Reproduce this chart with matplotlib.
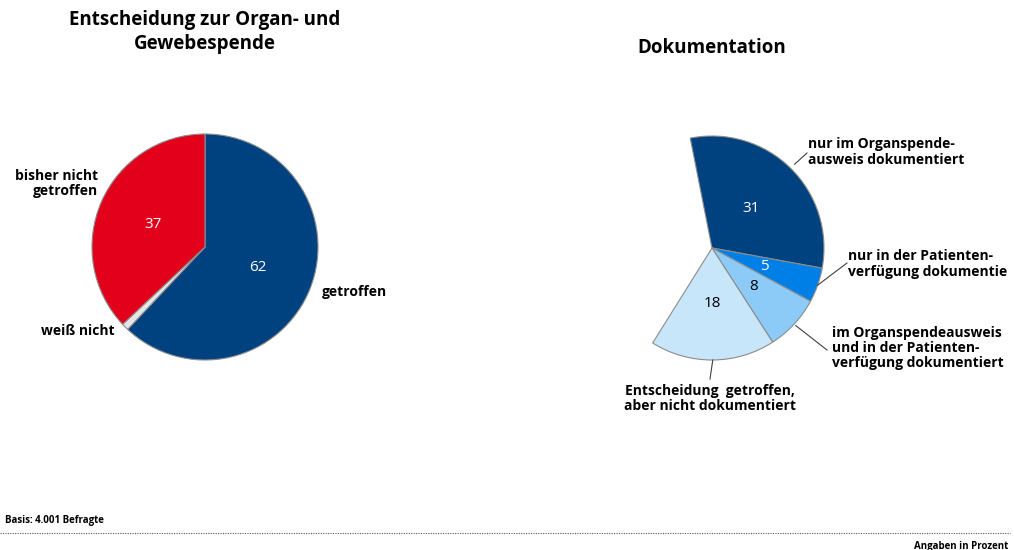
import numpy as np
import matplotlib
matplotlib.use("Agg")
import matplotlib.pyplot as plt

plt.rcParams["font.family"] = ["Open Sans", "DejaVu Sans"]

# daten
entscheidung_labels = ["getroffen", "weiß nicht", "bisher nicht\ngetroffen"]
entscheidung_werte = [62, 1, 37]
entscheidung_farben = ["#00427F", "#E6E6E6", "#E2001A"]

doku_labels = ["nur im Organspende-\nausweis dokumentiert",
               "nur in der Patienten-\nverfügung dokumentie",
               "im Organspendeausweis\nund in der Patienten-\nverfügung dokumentiert",
               "Entscheidung  getroffen,\naber nicht dokumentiert"]
doku_werte = [31, 5, 8, 18]
doku_farben = ["#00427F", "#0080E6", "#8CCBF8", "#C7E6FA"]
doku_textfarben = ["white", "white", "black", "black"]

W, H = 1014, 550
fig = plt.figure(figsize=(W / 100, H / 100), dpi=100)

def achse(cx, cy, box=300):
    ax = fig.add_axes([(cx - box / 2) / W, (H - cy - box / 2) / H, box / W, box / H])
    return ax

def grenzen(ax, r, box=300):
    lim = box / 2 / r
    ax.set_xlim(-lim, lim)
    ax.set_ylim(-lim, lim)
    ax.set_aspect("equal")
    ax.axis("off")

kante = {"edgecolor": "#8C8C8C", "linewidth": 0.8}

# linke torte
ax1 = achse(205, 247)
w1, t1, p1 = ax1.pie(entscheidung_werte, colors=entscheidung_farben, startangle=90,
                     counterclock=False, wedgeprops=kante, pctdistance=0.5,
                     autopct=lambda p: f"{p:.0f}" if p > 5 else "",
                     textprops={"fontsize": 11, "color": "white"})
grenzen(ax1, 113)
ax1.text(1.035, -0.40, entscheidung_labels[0], ha="left", va="center",
         fontsize=10, fontweight="bold")
ax1.text(-0.80, -0.745, entscheidung_labels[1], ha="right", va="center",
         fontsize=10, fontweight="bold")
ax1.text(-0.95, 0.56, entscheidung_labels[2], ha="right", va="center",
         fontsize=10, fontweight="bold", linespacing=1.1)
ax1.text(0, 1.9, "Entscheidung zur Organ- und\nGewebespende", ha="center", va="center",
         fontsize=13.5, fontweight="bold", linespacing=1.25)

# rechte torte (nur der teil "getroffen")
ax2 = achse(712, 248)
w2, t2, p2 = ax2.pie(np.array(doku_werte) / 100, normalize=False, colors=doku_farben,
                     startangle=101.2, counterclock=False, wedgeprops=kante,
                     pctdistance=0.5, autopct=lambda p: f"{p:.0f}",
                     textprops={"fontsize": 11})
grenzen(ax2, 112)
for t, c in zip(p2, doku_textfarben):
    t.set_color(c)

ax2.text(0, 1.79, "Dokumentation", ha="center", va="center",
         fontsize=13.5, fontweight="bold")

# beschriftungen mit linien
text_pos = [(0.857, 0.857, "left"), (1.214, -0.143, "left"),
            (1.071, -0.893, "left"), (-0.018, -1.34, "center")]
linien_ende = [(0.848, 0.848), (1.205, -0.134), (1.027, -0.911), (-0.018, -1.17)]
linien_start = [1.05, 1.0, 1.02, 1.0]
for w, lab, (tx, ty, ha), (ex, ey), rs in zip(w2, doku_labels, text_pos, linien_ende, linien_start):
    winkel = np.deg2rad((w.theta1 + w.theta2) / 2)
    sx, sy = rs * np.cos(winkel), rs * np.sin(winkel)
    ax2.plot([sx, ex], [sy, ey], color="#404040", linewidth=0.8, clip_on=False)
    ax2.text(tx, ty, lab, ha=ha, va="center", fontsize=10, fontweight="bold",
             linespacing=1.1)

# fusszeile
fig.text(5 / W, 1 - 520 / H, "Basis: 4.001 Befragte", fontsize=7, fontweight="bold",
         ha="left", va="center")
fig.add_artist(plt.Line2D([0, 1010 / W], [1 - 533 / H, 1 - 533 / H], color="#555555",
                          linewidth=0.8, linestyle=(0, (1, 1.2))))
fig.text(1008 / W, 1 - 546 / H, "Angaben in Prozent", fontsize=7, fontweight="bold",
         ha="right", va="center")

fig.savefig("out.png", dpi=100)
